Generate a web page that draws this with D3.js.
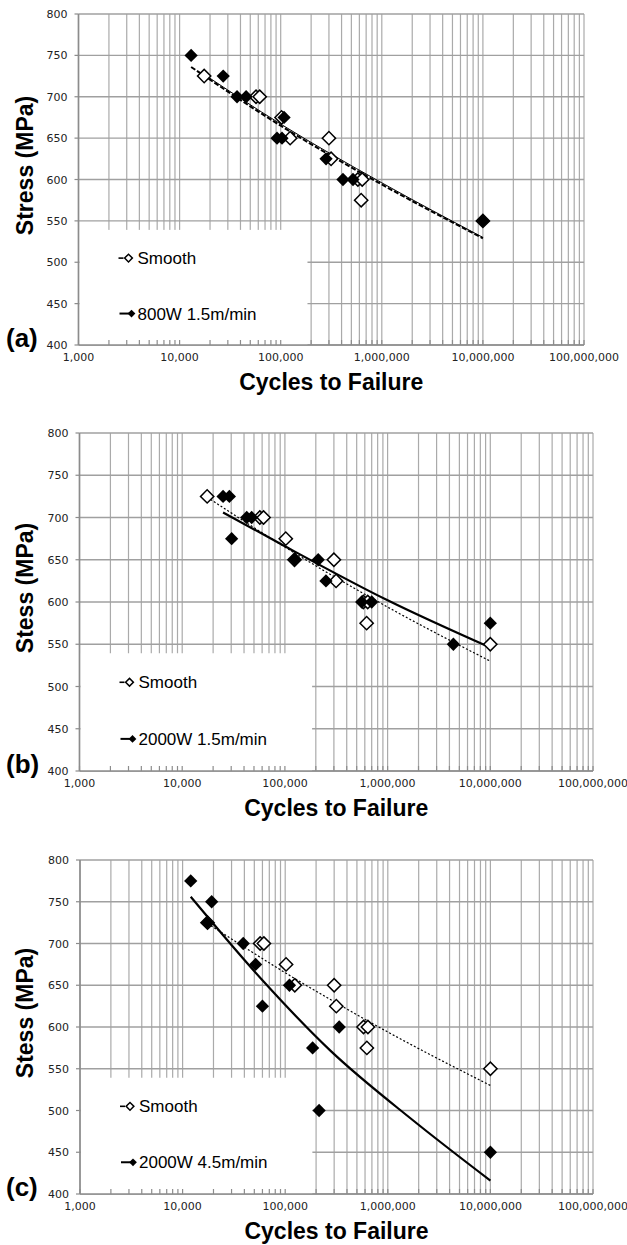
<!DOCTYPE html>
<html>
<head>
<meta charset="utf-8">
<script src="https://cdn.jsdelivr.net/npm/d3@7"></script>
<style>
  body { margin: 0; background: #fff; }
  svg { display: block; }
</style>
</head>
<body>
<svg width="627" height="1245"></svg>
<script>
// tick values
let yTicks = [400, 450, 500, 550, 600, 650, 700, 750, 800];
let xTicks = [1e3, 1e4, 1e5, 1e6, 1e7, 1e8];
let xTickLabels = ["1,000", "10,000", "100,000", "1,000,000", "10,000,000", "100,000,000"];

// Smooth series (same in all three panels)
let smoothCycles = [17500, 57000, 62000, 102000, 124000, 300000, 315000, 580000, 640000, 625000, 10000000];
let smoothStress = [725, 700, 700, 675, 650, 650, 625, 600, 600, 575, 550];

// (a) 800W 1.5m/min
let aCycles = [13000, 27000, 37000, 45500, 92000, 103000, 108000, 281000, 413000, 519000, 10000000];
let aStress = [750, 725, 700, 700, 650, 650, 675, 625, 600, 600, 550];

// (b) 2000W 1.5m/min
let bCycles = [25000, 28800, 30300, 42500, 47500, 125000, 211000, 251000, 560000, 700000, 4370000, 10000000];
let bStress = [725, 725, 675, 700, 700, 650, 650, 625, 600, 600, 550, 575];

// (c) 2000W 4.5m/min
let cCycles = [12000, 17400, 19200, 39000, 51500, 60000, 110000, 185000, 214000, 336000, 10000000];
let cStress = [775, 725, 750, 700, 675, 625, 650, 575, 500, 600, 450];

// trend lines
let aFitCycles = [13000, 100000, 1000000, 10000000];
let aFitStress = [736, 665, 594, 529];
let aSmoothFitCycles = [17500, 100000, 1000000, 10000000];
let aSmoothFitStress = [727, 667, 596, 530];
let bFitCycles = [25000, 100000, 1000000, 10000000];
let bFitStress = [706, 666, 602, 546];
let cFitCycles = [12000, 60000, 274000, 1770000, 10000000];
let cFitStress = [756, 656, 572, 488, 416];
let smoothFitCycles = [17500, 100000, 1000000, 10000000];
let smoothFitStress = [724, 665, 594, 530];

let zip = (xs, ys) => xs.map((v, i) => [v, ys[i]]);

let svg = d3.select('svg');

function drawPanel(p) {
    let x = d3.scaleLog().domain([1e3, 1e8]).range([p.x0, p.x1]);
    let y = d3.scaleLinear().domain([400, 800]).range([p.y1, p.y0]);
    let g = svg.append('g');

    // grid
    let minor = [];
    for (let e = 3; e < 8; e++) {
        for (let m = 1; m < 10; m++) minor.push(m * Math.pow(10, e));
    }
    minor.push(1e8);
    g.append('g').selectAll('line').data(minor).join('line')
        .attr('x1', d => x(d)).attr('x2', d => x(d))
        .attr('y1', p.y0).attr('y2', p.y1)
        .attr('stroke', '#aaaaaa').attr('stroke-width', 1.2);
    g.append('g').selectAll('line').data(yTicks).join('line')
        .attr('x1', p.x0).attr('x2', p.x1)
        .attr('y1', d => y(d)).attr('y2', d => y(d))
        .attr('stroke', '#a0a0a0').attr('stroke-width', 1.4);

    // legend box covering the grid
    let boxTop = y(550) + 9;
    let boxRight = x(184000);
    g.append('rect')
        .attr('x', p.x0 + 1).attr('y', boxTop)
        .attr('width', boxRight - p.x0 - 1).attr('height', p.y1 - boxTop)
        .attr('fill', '#fff');

    // axes
    g.append('line').attr('x1', p.x0).attr('x2', p.x0).attr('y1', p.y0).attr('y2', p.y1)
        .attr('stroke', '#8c8c8c').attr('stroke-width', 1.6);
    g.append('line').attr('x1', p.x0).attr('x2', p.x1).attr('y1', p.y1).attr('y2', p.y1)
        .attr('stroke', '#8c8c8c').attr('stroke-width', 1.6);
    g.append('g').selectAll('line').data(minor).join('line')
        .attr('x1', d => x(d)).attr('x2', d => x(d))
        .attr('y1', p.y1).attr('y2', p.y1 - 5)
        .attr('stroke', '#8c8c8c').attr('stroke-width', 1.2);
    g.append('g').selectAll('line').data(yTicks).join('line')
        .attr('x1', p.x0 - 4).attr('x2', p.x0)
        .attr('y1', d => y(d)).attr('y2', d => y(d))
        .attr('stroke', '#8c8c8c').attr('stroke-width', 1.2);

    // tick labels
    g.append('g').selectAll('text').data(yTicks).join('text')
        .attr('x', p.x0 - 11).attr('y', d => y(d) + 4)
        .attr('text-anchor', 'end')
        .attr('font-family', 'DejaVu Sans').attr('font-size', 11)
        .attr('fill', '#222')
        .text(d => d);
    g.append('g').selectAll('text').data(xTicks).join('text')
        .attr('x', d => x(d)).attr('y', p.y1 + 16)
        .attr('text-anchor', 'middle')
        .attr('font-family', 'DejaVu Sans').attr('font-size', 11)
        .attr('fill', '#222')
        .text((d, i) => xTickLabels[i]);

    // titles
    g.append('text')
        .attr('x', (p.x0 + p.x1) / 2).attr('y', p.y1 + 45)
        .attr('text-anchor', 'middle')
        .attr('font-family', 'Liberation Sans').attr('font-weight', 'bold').attr('font-size', 23)
        .text('Cycles to Failure');
    g.append('text')
        .attr('transform', `translate(33,${(p.y0 + p.y1) / 2 - 14}) rotate(-90)`)
        .attr('text-anchor', 'middle')
        .attr('font-family', 'Liberation Sans').attr('font-weight', 'bold').attr('font-size', 23)
        .text(p.yTitle);
    g.append('text')
        .attr('x', 6).attr('y', p.y1 + 2)
        .attr('font-family', 'Liberation Sans').attr('font-weight', 'bold').attr('font-size', 26)
        .text(p.tag);

    // trend lines
    let line = d3.line().x(d => x(d[0])).y(d => y(d[1])).curve(d3.curveMonotoneX);
    g.append('path').datum(p.smoothFit)
        .attr('d', line).attr('fill', 'none').attr('stroke', '#000')
        .attr('stroke-width', p.smoothWidth).attr('stroke-dasharray', p.smoothDash);
    g.append('path').datum(p.fit)
        .attr('d', line).attr('fill', 'none').attr('stroke', '#000')
        .attr('stroke-width', p.fitWidth).attr('stroke-dasharray', p.fitDash);

    // markers
    let diamond = d3.symbol(d3.symbolSquare).size(88);
    g.append('g').selectAll('path').data(zip(smoothCycles, smoothStress)).join('path')
        .attr('d', diamond)
        .attr('transform', d => `translate(${x(d[0])},${y(d[1])}) rotate(45)`)
        .attr('fill', '#fff').attr('stroke', '#000').attr('stroke-width', 1.5);
    g.append('g').selectAll('path').data(p.points).join('path')
        .attr('d', diamond)
        .attr('transform', d => `translate(${x(d[0])},${y(d[1])}) rotate(45)`)
        .attr('fill', '#000');

    // legend
    let small = d3.symbol(d3.symbolSquare).size(30);
    let ly1 = y(505), ly2 = y(438);
    g.append('line').attr('x1', p.x0 + 40).attr('x2', p.x0 + 45).attr('y1', ly1).attr('y2', ly1)
        .attr('stroke', '#000').attr('stroke-width', 1.6);
    g.append('path').attr('d', small)
        .attr('transform', `translate(${p.x0 + 50},${ly1}) rotate(45)`)
        .attr('fill', '#fff').attr('stroke', '#000').attr('stroke-width', 1.5);
    g.append('text').attr('x', p.x0 + 59).attr('y', ly1 + 6)
        .attr('font-family', 'Liberation Sans').attr('font-size', 17)
        .text('Smooth');
    g.append('line').attr('x1', p.x0 + 41).attr('x2', p.x0 + 53).attr('y1', ly2).attr('y2', ly2)
        .attr('stroke', '#000').attr('stroke-width', 2);
    g.append('path').attr('d', small)
        .attr('transform', `translate(${p.x0 + 53},${ly2}) rotate(45)`)
        .attr('fill', '#000');
    g.append('text').attr('x', p.x0 + 59).attr('y', ly2 + 6)
        .attr('font-family', 'Liberation Sans').attr('font-size', 17)
        .text(p.label);
}

drawPanel({
    x0: 78.5, x1: 584, y0: 14, y1: 345,
    tag: '(a)', yTitle: 'Stress (MPa)', label: '800W 1.5m/min',
    points: zip(aCycles, aStress),
    fit: zip(aFitCycles, aFitStress), fitWidth: 2, fitDash: '5,2',
    smoothFit: zip(aSmoothFitCycles, aSmoothFitStress), smoothWidth: 1, smoothDash: null
});
drawPanel({
    x0: 79.5, x1: 593, y0: 433, y1: 771,
    tag: '(b)', yTitle: 'Stess (MPa)', label: '2000W 1.5m/min',
    points: zip(bCycles, bStress),
    fit: zip(bFitCycles, bFitStress), fitWidth: 2.2, fitDash: null,
    smoothFit: zip(smoothFitCycles, smoothFitStress), smoothWidth: 1.2, smoothDash: '2,2'
});
drawPanel({
    x0: 80, x1: 593, y0: 860, y1: 1194,
    tag: '(c)', yTitle: 'Stess (MPa)', label: '2000W 4.5m/min',
    points: zip(cCycles, cStress),
    fit: zip(cFitCycles, cFitStress), fitWidth: 2.2, fitDash: null,
    smoothFit: zip(smoothFitCycles, smoothFitStress), smoothWidth: 1.2, smoothDash: '2,2'
});
</script>
</body>
</html>
